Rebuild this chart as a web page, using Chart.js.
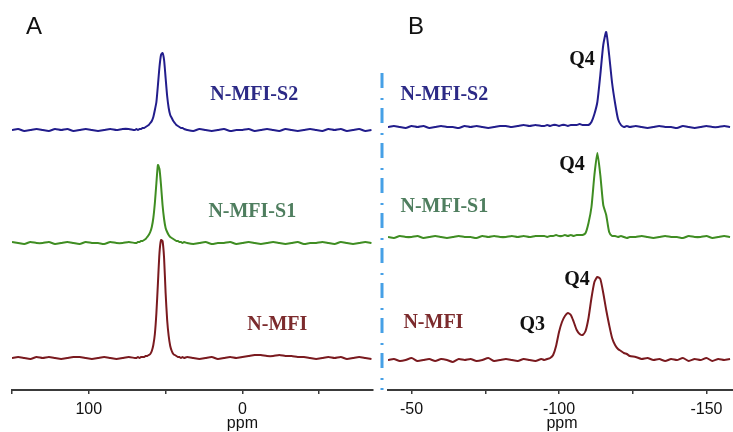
<!DOCTYPE html>
<html>
<head>
<meta charset="utf-8">
<title>MAS NMR spectra</title>
<script src="https://cdn.jsdelivr.net/npm/chart.js@4.4.0/dist/chart.umd.min.js"></script>
<style>
  html, body { margin: 0; padding: 0; background: #fff; overflow: hidden; }
  #wrap { position: relative; width: 733px; height: 432px; overflow: hidden; }
  canvas { position: absolute; top: 0; }
  #chartA { left: 0; }
  #chartB { left: 378px; }
</style>
</head>
<body>
<div id="wrap">
  <canvas id="chartA" width="378" height="436"></canvas>
  <canvas id="chartB" width="355" height="436"></canvas>
</div>
<script>
// --------------------
// Spectra (intensity above each trace's own baseline)
// --------------------
const seriesNames = ["N-MFI-S2", "N-MFI-S1", "N-MFI"];

// Panel A
const ppmA = [
  150, 146, 142, 138, 134, 130, 126, 122, 118, 114, 110, 106, 102, 98, 94, 90, 86, 82, 78, 74, 70,
  69, 68, 67, 66, 65, 64, 63, 62, 61, 60, 59, 58, 57, 56, 55, 54, 53, 52, 51, 50, 49, 48, 47, 46, 45, 44, 43, 42, 41, 40, 39, 38,
  36, 32, 28, 24, 20, 16, 12, 8, 4, 0, -4, -8, -12, -16, -20, -24, -28, -32, -36, -40, -44, -48, -52, -56, -60, -64, -68, -72, -76, -80, -84
];
const s2A = [
  0, 1, -1, 0, 1, 0, -1, 1, 0, 1, -1, 0, 1, 0, -1, 0, 1, 0, 1, 1, 0,
  1, 0, 1, 1, 2, 2, 3, 4, 5, 7, 9, 13, 20, 28, 45, 63, 75, 77, 70, 52, 34, 22, 15, 12, 9, 7, 5, 4, 3, 2, 2, 1,
  0, -1, 1, 0, -1, 0, 1, -1, 0, 0, 1, -1, 0, 1, 0, -1, 1, 0, -1, 0, 1, 0, -1, 1, 0, 1, -1, 0, 1, -1, 0
];
const s1A = [
  1, 0, -1, 1, 0, 0, 1, -1, 0, 1, 0, -1, 1, 0, 0, -1, 1, 0, 0, 1, 0,
  0, 1, 1, 2, 2, 3, 4, 6, 8, 11, 16, 25, 40, 60, 78, 74, 58, 38, 24, 15, 11, 8, 6, 5, 4, 3, 2, 2, 1, 1, 0, 1,
  0, -1, 0, 1, -1, 0, 0, 1, -1, 0, 1, 0, -1, 0, 1, 0, -1, 0, 1, -1, 0, 0, 1, 0, -1, 1, 0, -1, 0, 1, 0
];
const mfiA = [
  0, 1, 0, -1, 1, 0, 1, 0, -1, 0, 1, 1, 0, -1, 0, 1, 0, -1, 0, 1, 0,
  0, 1, 0, 1, 1, 1, 2, 2, 3, 4, 7, 13, 24, 45, 75, 105, 118, 117, 100, 65, 38, 22, 12, 7, 4, 3, 2, 1, 1, 0, 1, 0,
  1, 0, -1, 0, 1, -1, 0, 1, 0, 1, 2, 3, 3, 2, 2, 3, 2, 2, 1, 1, 0, -1, 0, 1, 0, 1, -1, 0, 1, 0, -1
];
const offsetsA = [260, 147, 32];

// Panel B
const ppmB = [
  -42, -44, -46, -48, -50, -52, -54, -56, -58, -60, -62, -64, -66, -68, -70, -72, -74, -76, -78, -80, -82, -84, -86, -88, -90, -92, -94,
  -95, -96, -97, -98, -99, -100, -101, -102, -103, -104, -105, -106, -107, -108, -109, -110,
  -111, -112, -113, -114, -115, -116, -117, -118, -119, -120, -121, -122, -123, -124,
  -126, -128, -130, -132, -134, -136, -138, -140, -142, -144, -146, -148, -150, -152, -154, -156, -158
];
const s2B = [
  0, 1, 0, -1, 1, 0, 1, -1, 0, 1, 0, 0, -1, 1, 0, 1, 0, -1, 0, 1, 1, 0, 1, 2, 1, 2, 1,
  1, 2, 1, 2, 2, 1, 2, 2, 1, 2, 2, 2, 3, 2, 2, 2,
  5, 13, 25, 52, 82, 95, 72, 44, 24, 8, 2, 0, 1, 0,
  1, 0, -1, 0, 1, 0, 0, -1, 1, 0, -1, 0, 1, 0, 0, 1, 0
];
const s1B = [
  0, -1, 1, 0, 0, 1, -1, 0, 1, 0, -1, 0, 1, 0, 0, -1, 1, 0, 1, 0, 0, 1, 0, 1, 0, 1, 1,
  1, 0, 1, 1, 2, 1, 1, 2, 1, 2, 1, 2, 2, 2, 4, 14,
  30, 62, 84, 62, 32, 22, 5, 1, 1, 0, 1, 0, -1, 0,
  0, 1, 0, -1, 0, 1, 0, 0, -1, 1, 0, 0, 1, -1, 0, 1, 0
];
const mfiB = [
  0, 1, -1, 0, 2, -1, 0, 1, -1, 1, 0, -2, 1, 0, 1, -1, 0, 2, -1, 0, 1, 0, -1, 1, 0, -1, 1,
  0, 1, 2, 5, 14, 28, 38, 44, 47, 45, 38, 30, 26, 25, 29, 42,
  62, 78, 83, 81, 67, 50, 35, 22, 15, 11, 9, 7, 6, 4,
  3, 1, 2, 0, 1, -1, 1, 0, 2, -1, 1, 0, 2, -1, 1, 0, 1
];
const offsetsB = [263, 153, 30];

// Axis ranges (ppm, drawn high to low); unit label sits under unitAt
const rangeA = { min: -85, max: 150, step: 50, labelEvery: 100, unitAt: 0 };
const rangeB = { min: -159, max: -42, step: 25, labelEvery: 50, unitAt: -101 };

// --------------------
// Styles
// --------------------
const lineColors = ["#221d8c", "#3f8d22", "#7a1a1f"];
const nameColors = ["#2c2a86", "#4f7e5f", "#7c2b2d"];
const serifBold = 'bold 20px "Liberation Serif", "Times New Roman", serif';
const sans = '"Liberation Sans", Arial, sans-serif';

// text annotations, placed in data coordinates
const notesA = [
  { text: "N-MFI-S2", ppm: -7.7, y: 295, color: nameColors[0] },
  { text: "N-MFI-S1", ppm: -6.4, y: 178, color: nameColors[1] },
  { text: "N-MFI", ppm: -22.7, y: 65, color: nameColors[2] },
];
const notesB = [
  { text: "N-MFI-S2", ppm: -61.1, y: 295, color: nameColors[0] },
  { text: "N-MFI-S1", ppm: -61.1, y: 183, color: nameColors[1] },
  { text: "N-MFI", ppm: -57.4, y: 67, color: nameColors[2] },
  { text: "Q4", ppm: -107.8, y: 330, color: "#111" },
  { text: "Q4", ppm: -104.4, y: 225, color: "#111" },
  { text: "Q4", ppm: -106.1, y: 110, color: "#111" },
  { text: "Q3", ppm: -90.9, y: 65, color: "#111" },
];

function buildDatasets(ppm, spectra, offsets) {
  return spectra.map((vals, k) => ({
    label: seriesNames[k],
    data: ppm.map((p, i) => ({ x: p, y: vals[i] + offsets[k] })),
    borderColor: lineColors[k],
    borderWidth: 2,
    pointRadius: 0,
    tension: 0.2,
    fill: false,
  }));
}

// annotations, panel letter and the "ppm" unit under one of the ticks
function textPlugin(notes, letter, letterX, range, extra) {
  return {
    id: "notes",
    afterDatasetsDraw(chart) {
      const { ctx, scales } = chart;
      ctx.save();
      ctx.textAlign = "center";
      ctx.textBaseline = "middle";
      ctx.font = serifBold;
      notes.forEach((n) => {
        ctx.fillStyle = n.color;
        ctx.fillText(n.text, scales.x.getPixelForValue(n.ppm), scales.y.getPixelForValue(n.y));
      });
      ctx.fillStyle = "#111";
      ctx.font = "24px " + sans;
      ctx.fillText(letter, letterX, 27);
      ctx.font = "16px " + sans;
      ctx.fillText("ppm", scales.x.getPixelForValue(range.unitAt), scales.x.top + 34);
      if (extra) extra(chart);
      ctx.restore();
    },
  };
}

// dash-dot divider between the two panels
function drawDivider(chart) {
  const { ctx, chartArea } = chart;
  ctx.save();
  ctx.strokeStyle = "#46a0e6";
  ctx.lineWidth = 3;
  ctx.setLineDash([15, 10, 2, 8]);
  ctx.beginPath();
  ctx.moveTo(chartArea.left - 6, 73);
  ctx.lineTo(chartArea.left - 6, chartArea.bottom);
  ctx.stroke();
  ctx.restore();
}

function makeOptions(range, pad) {
  return {
    responsive: false,
    animation: false,
    layout: { padding: pad },
    plugins: { legend: { display: false }, tooltip: { enabled: false } },
    scales: {
      x: {
        type: "linear",
        reverse: true,
        min: range.min,
        max: range.max,
        border: { display: true, color: "#3a3a3a", width: 2 },
        grid: { drawOnChartArea: false, drawTicks: true, tickLength: 4, color: "#3a3a3a", lineWidth: 1.5 },
        ticks: {
          stepSize: range.step,
          autoSkip: false,
          maxRotation: 0,
          includeBounds: false,
          padding: 4,
          color: "#111",
          font: { family: sans, size: 16, lineHeight: 1.5 },
          callback: (v) => (v % range.labelEvery === 0 ? String(v) : ""),
        },
      },
      y: { display: false, min: 0, max: 370 },
    },
  };
}

new Chart(document.getElementById("chartA"), {
  type: "line",
  data: { datasets: buildDatasets(ppmA, [s2A, s1A, mfiA], offsetsA) },
  options: makeOptions(rangeA, { left: 12, right: 5, top: 20, bottom: 10 }),
  plugins: [textPlugin(notesA, "A", 34, rangeA)],
});

new Chart(document.getElementById("chartB"), {
  type: "line",
  data: { datasets: buildDatasets(ppmB, [s2B, s1B, mfiB], offsetsB) },
  options: makeOptions(rangeB, { left: 10, right: 0, top: 20, bottom: 10 }),
  plugins: [textPlugin(notesB, "B", 38, rangeB, drawDivider)],
});
</script>
</body>
</html>
